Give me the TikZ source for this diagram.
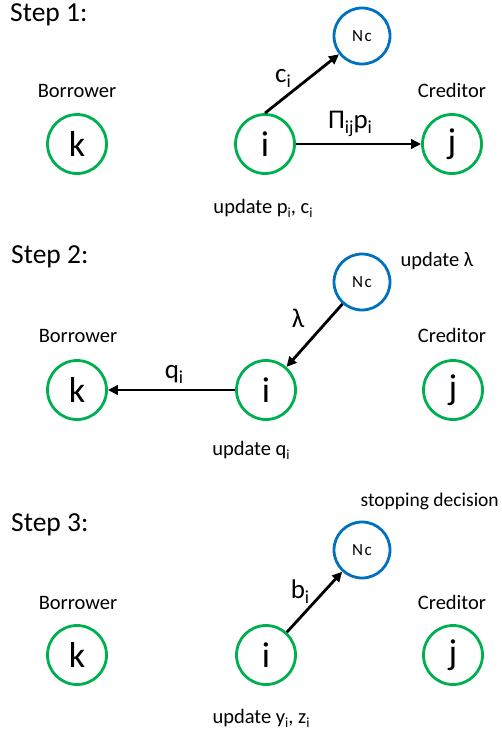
\documentclass[tikz,border=0pt]{standalone}
\usepackage{fontspec}
\setmainfont{Carlito}
\usetikzlibrary{arrows.meta}
\definecolor{grn}{RGB}{0,176,80}
\definecolor{blu}{RGB}{0,112,192}
\newcommand{\lsub}[1]{\raisebox{-0.22em}{\scalebox{0.68}{#1}}}
\begin{document}
\begin{tikzpicture}[x=1pt,y=-1pt,
  agent/.style={circle,draw=grn,line width=2.8pt,minimum size=59pt,inner sep=0pt,font=\fontsize{36}{38}\selectfont},
  central/.style={circle,draw=blu,line width=2.8pt,minimum size=56pt,inner sep=0pt,font=\fontsize{17}{19}\selectfont},
  steptitle/.style={anchor=base west,inner sep=0pt,font=\fontsize{27.5}{30}\selectfont},
  role/.style={anchor=base,inner sep=0pt,font=\fontsize{20.5}{22}\selectfont},
  elabel/.style={anchor=base,inner sep=0pt,font=\fontsize{27}{29}\selectfont},
  flow/.style={line width=2.8pt,-{Triangle[length=10pt,width=9.5pt]}}
]
\useasboundingbox (0,0) rectangle (501,736);

% ---------- Step 1 ----------
\node[steptitle] (s1) at (10,21) {Step 1:};
\node[agent] (k1) at (77,144) {k};
\node[agent] (i1) at (265,144) {i};
\node[agent] (j1) at (452,144) {j};
\node[central] (n1) at (362,36) {N\kern1.5pt c};
\node[role] (b1) at (77,97) {Borrower};
\node[role] (c1) at (452,97) {Creditor};
\node[role] (u1) at (263,213) {update p\lsub{i}, c\lsub{i}};
\node[elabel] (l1a) at (283,82) {c\lsub{i}};
\node[elabel] (l1b) at (350,128) {Π\lsub{ij}p\lsub{i}};
\draw[flow] (i1.north) -- (n1);
\draw[flow] (i1) -- (j1);

% ---------- Step 2 ----------
\node[steptitle] (s2) at (11,263) {Step 2:};
\node[agent] (k2) at (77,390) {k};
\node[agent] (i2) at (266,390) {i};
\node[agent] (j2) at (453,390) {j};
\node[central] (n2) at (362,282) {N\kern1.5pt c};
\node[role] (b2) at (78,342) {Borrower};
\node[role] (c2) at (452,342) {Creditor};
\node[role] (u2a) at (437,266) {update λ};
\node[role] (u2b) at (251,455) {update q\lsub{i}};
\node[elabel] (l2a) at (298,327) {λ};
\node[elabel] (l2b) at (174,378) {q\lsub{i}};
\draw[flow] (n2) -- (i2);
\draw[flow] (i2) -- (k2);

% ---------- Step 3 ----------
\node[steptitle] (s3) at (11,531) {Step 3:};
\node[agent] (k3) at (77,655) {k};
\node[agent] (i3) at (266,655) {i};
\node[agent] (j3) at (453,655) {j};
\node[central] (n3) at (362,550) {N\kern1.5pt c};
\node[role] (b3) at (78,609) {Borrower};
\node[role] (c3) at (452,609) {Creditor};
\node[role,anchor=base east,font=\fontsize{19.5}{21}\selectfont] (u3a) at (499,506) {stopping decision};
\node[role] (u3b) at (261,723) {update y\lsub{i}, z\lsub{i}};
\node[elabel] (l3a) at (300,598) {b\lsub{i}};
\draw[flow] (i3) -- (n3);
\end{tikzpicture}
\end{document}
